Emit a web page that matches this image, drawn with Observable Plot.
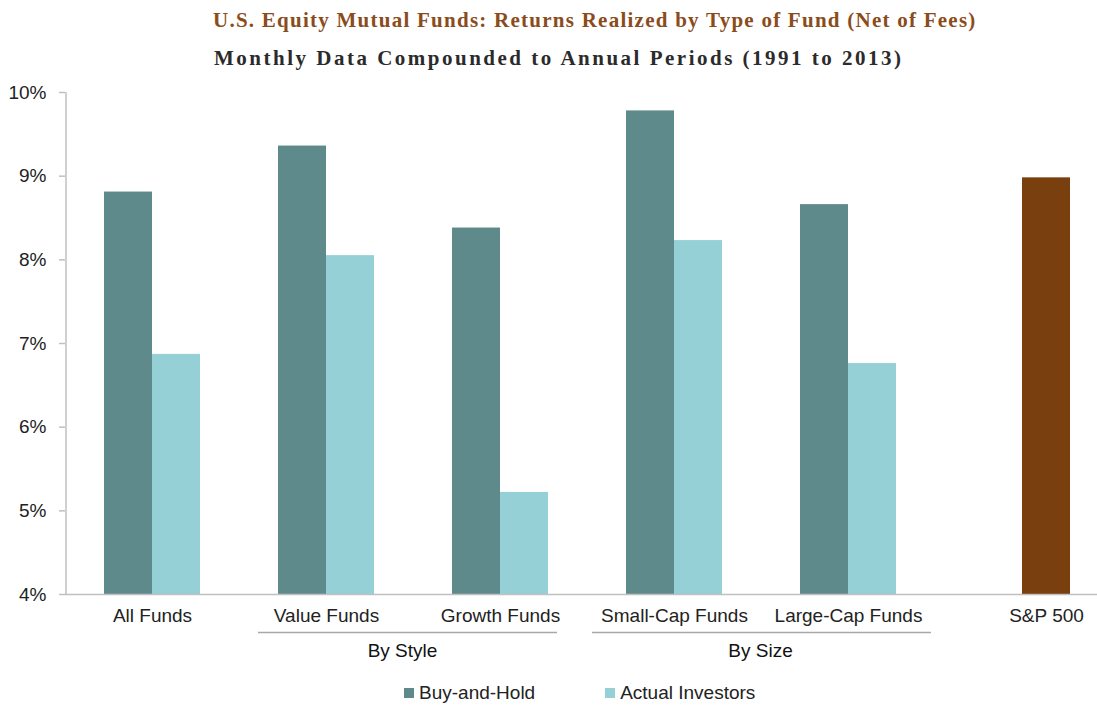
<!DOCTYPE html>
<html>
<head>
<meta charset="utf-8">
<script src="https://cdn.jsdelivr.net/npm/d3@7"></script>
<script src="https://cdn.jsdelivr.net/npm/@observablehq/plot@0.6"></script>
<style>
  body { margin: 0; background: #fff; width: 1097px; height: 706px; overflow: hidden; position: relative; font-family: "Liberation Sans", Arial, sans-serif; }
  .title { position: absolute; font-family: "Liberation Serif", serif; font-weight: bold; white-space: nowrap; font-size: 21px; }
  #t1 { top: 8px; left: 213px; color: #8B4C1C; letter-spacing: 1.25px; }
  #t2 { top: 46px; left: 214px; color: #2b2b2b; letter-spacing: 2.5px; }
  #chart { position: absolute; left: 0; top: 80px; }
  #legend { position: absolute; left: 404px; top: 682px; }
  .lg-swatches { font-family: "Liberation Sans", Arial, sans-serif !important; font-size: 19px !important; color: #222 !important; margin: 0 !important; min-height: 0 !important; }
  .lg-swatch { margin-right: 70px !important; }
  .lg-swatch:last-child { margin-right: 0 !important; }
  .lg-swatch svg { margin-right: 5px !important; }
</style>
</head>
<body>
<div class="title" id="t1">U.S. Equity Mutual Funds: Returns Realized by Type of Fund (Net of Fees)</div>
<div class="title" id="t2">Monthly Data Compounded to Annual Periods (1991 to 2013)</div>
<div id="chart"></div>
<div id="legend"></div>
<script>
// ---- data ----
const categories = ["All Funds", "Value Funds", "Growth Funds", "Small-Cap Funds", "Large-Cap Funds", "S&P 500"];
const fundCategories = ["All Funds", "Value Funds", "Growth Funds", "Small-Cap Funds", "Large-Cap Funds"];
const buyAndHold = [8.81, 9.36, 8.38, 9.78, 8.66];
const actualInvestors = [6.87, 8.05, 5.22, 8.23, 6.76];
const sp500 = 8.98;
const seriesNames = ["Buy-and-Hold", "Actual Investors", "S&P 500"];
const seriesColors = ["#5f8a8b", "#94d0d6", "#7a3f0f"];
const yTicks = [4, 5, 6, 7, 8, 9, 10];
const groupLabels = ["By Style", "By Size"];
const groupMembers = [["Value Funds", "Growth Funds"], ["Small-Cap Funds", "Large-Cap Funds"]];

// ---- table ----
const rows = [];
fundCategories.forEach((c, i) => {
  rows.push({category: c, slot: "A", series: "Buy-and-Hold", value: buyAndHold[i]});
  rows.push({category: c, slot: "B", series: "Actual Investors", value: actualInvestors[i]});
});
rows.push({category: "S&P 500", slot: "B", series: "S&P 500", value: sp500});

const lineColor = "#c0c0c0";
const groupLineColor = "#a8a8a8";
const textColor = "#222";
const FS = 19;

// facet geometry: band width and offset of first slot centre within a facet
const W = 1097, ML = 65, MR = -12;
const facetW = (W - ML - MR) / categories.length;
const PO = 0.776;
const slotStep = facetW / (2 + 2 * PO);
const firstSlotCentre = PO * slotStep + slotStep / 2;

const chart = Plot.plot({
  width: W,
  height: 590,
  marginLeft: ML,
  marginRight: MR,
  marginTop: 12,
  marginBottom: 76,
  style: {fontFamily: "'Liberation Sans', Arial, sans-serif", fontSize: FS + "px", color: textColor, background: "transparent"},
  fx: {domain: categories, padding: 0, axis: null},
  x: {domain: ["A", "B"], paddingInner: 0, paddingOuter: PO, axis: null},
  y: {domain: [4, 10], axis: null},
  color: {domain: seriesNames, range: seriesColors},
  marks: [
    Plot.barY(rows, {fx: "category", x: "slot", y1: 4, y2: "value", fill: "series"}),
    // baseline
    Plot.ruleY([4], {stroke: lineColor, strokeWidth: 1.5}),
    // y axis line at the left edge of the first facet
    Plot.ruleX([categories[0]], {fx: d => d, x: () => "A", dx: -firstSlotCentre, y1: 4, y2: 10, stroke: lineColor, strokeWidth: 1.5}),
    Plot.axisY({facetAnchor: "left", label: null, ticks: yTicks, tickFormat: d => d + "%", tickSize: 6, tickPadding: 13, stroke: lineColor, strokeWidth: 1.5, fill: textColor, fontSize: FS}),
    // category labels
    Plot.text(fundCategories, {fx: d => d, frameAnchor: "bottom", text: d => d, dy: 27, fill: textColor, fontSize: FS}),
    Plot.text(["S&P 500"], {fx: d => d, x: () => "B", frameAnchor: "bottom", lineAnchor: "bottom", text: d => d, dy: 27, fill: textColor, fontSize: FS}),
    // group underlines
    Plot.ruleY([4], {fx: () => groupMembers[0][0], dy: 38, insetLeft: 19, stroke: groupLineColor, strokeWidth: 1.5}),
    Plot.ruleY([4], {fx: () => groupMembers[0][1], dy: 38, insetRight: 30, stroke: groupLineColor, strokeWidth: 1.5}),
    Plot.ruleY([4], {fx: () => groupMembers[1][0], dy: 38, insetLeft: 5, stroke: groupLineColor, strokeWidth: 1.5}),
    Plot.ruleY([4], {fx: () => groupMembers[1][1], dy: 38, insetRight: 4, stroke: groupLineColor, strokeWidth: 1.5}),
    // group labels
    Plot.text([groupLabels[0]], {fx: () => groupMembers[0][0], frameAnchor: "bottom-right", text: d => d, dx: -11, dy: 62, textAnchor: "middle", fill: "#111", fontSize: FS}),
    Plot.text([groupLabels[1]], {fx: () => groupMembers[1][0], frameAnchor: "bottom-right", text: d => d, dx: -1, dy: 62, textAnchor: "middle", fill: "#111", fontSize: FS}),
  ]
});
document.getElementById("chart").appendChild(chart);

const legend = Plot.legend({
  color: {domain: seriesNames.slice(0, 2), range: seriesColors.slice(0, 2)},
  swatchSize: 10,
  className: "lg"
});
document.getElementById("legend").appendChild(legend);
</script>
</body>
</html>
